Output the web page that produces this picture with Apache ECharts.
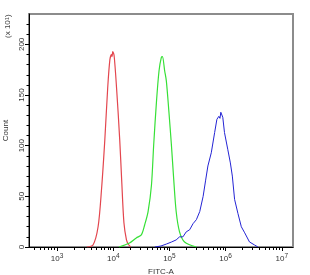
<!DOCTYPE html>
<html>
<head>
<meta charset="utf-8">
<script src="https://cdn.jsdelivr.net/npm/echarts@6/dist/echarts.min.js"></script>
<style>
  html, body { margin: 0; padding: 0; background: #fff; }
  #chart { width: 310px; height: 275px; }
</style>
</head>
<body>
<div id="chart"></div>
<script>
  // x values are log10(FITC-A), y values are count (x 10^1)
  const redData = [[3.53, 0], [3.64, 2], [3.73, 20], [3.79, 56], [3.85, 106], [3.9, 156], [3.94, 185], [3.97, 190], [3.98, 188], [3.99, 193], [4.015, 189], [4.06, 156], [4.115, 106], [4.15, 66], [4.19, 24], [4.235, 7], [4.265, 3], [4.31, 0]]
  const greenData = [[4.1, 0], [4.29, 4], [4.41, 9], [4.5, 12], [4.56, 22], [4.62, 35], [4.68, 61], [4.72, 101], [4.77, 144], [4.815, 174], [4.855, 187], [4.875, 188], [4.915, 174], [4.945, 164], [4.99, 134], [5.035, 101], [5.075, 68], [5.12, 35], [5.18, 15], [5.27, 5], [5.48, 0]]
  const blueData = [[4.74, 0], [4.85, 1], [4.95, 3], [5.04, 5], [5.12, 7], [5.18, 10], [5.24, 10], [5.3, 15], [5.36, 17], [5.42, 23], [5.48, 27], [5.54, 35], [5.6, 50], [5.645, 66], [5.685, 80], [5.745, 93], [5.805, 113], [5.845, 126], [5.88, 129], [5.9, 127], [5.915, 133], [5.95, 128], [5.98, 113], [6.04, 96], [6.085, 83], [6.12, 70], [6.16, 47], [6.22, 33], [6.28, 20], [6.34, 14], [6.425, 5], [6.515, 2], [6.575, 0]]

  const xMajor = [3, 4, 5, 6, 7]
  const xMinor = []
  for (let d = 2; d <= 7; d++) {
    for (let k = 2; k <= 9; k++) {
      const v = d + Math.log10(k)
      if (v > 2.5 && v < 7.2) xMinor.push(v)
    }
  }
  const yMajor = [0, 50, 100, 150, 200]
  const yMinor = [10, 20, 30, 40, 60, 70, 80, 90, 110, 120, 130, 140, 160, 170, 180, 190, 210, 220]

  const font = 'Liberation Sans'
  const chart = echarts.init(document.getElementById('chart'))
  chart.setOption({
    animation: false,
    grid: {
      left: 29,
      right: 17,
      top: 14,
      bottom: 28,
      outerBoundsMode: 'none',
      containLabel: false,
      show: true,
      borderColor: '#8c8c8c',
      borderWidth: 2
    },
    graphic: [{
      type: 'text',
      x: 4,
      y: 38,
      rotation: Math.PI / 2,
      style: {
        text: '(x 10{s|1})',
        fontFamily: font,
        fontSize: 8,
        fill: '#444',
        rich: { s: { fontSize: 6, verticalAlign: 'top', fill: '#444', fontFamily: font } }
      }
    }],
    xAxis: [{
      type: 'value',
      min: 2.5,
      max: 7.2,
      name: 'FITC-A',
      nameLocation: 'middle',
      nameGap: 20,
      nameTextStyle: { fontFamily: font, fontSize: 8, color: '#333' },
      splitLine: { show: false },
      axisLine: { onZero: false, lineStyle: { color: '#000', width: 1 } },
      axisTick: { customValues: xMajor, length: 4, lineStyle: { color: '#000' } },
      axisLabel: {
        customValues: xMajor,
        margin: 6,
        formatter: function(v) {
          return '{b|10}{s|' + Math.round(v) + '}'
        },
        rich: {
          b: { fontFamily: font, fontSize: 8, color: '#333' },
          s: { fontFamily: font, fontSize: 6.5, color: '#333', verticalAlign: 'top', padding: [0, 0, 4, 0] }
        }
      }
    }, {
      type: 'value',
      min: 2.5,
      max: 7.2,
      position: 'bottom',
      splitLine: { show: false },
      axisLine: { show: false },
      axisTick: { customValues: xMinor, length: 3, lineStyle: { color: '#000' } },
      axisLabel: { show: false }
    }],
    yAxis: [{
      type: 'value',
      min: 0,
      max: 230,
      name: 'Count',
      nameLocation: 'middle',
      nameGap: 19,
      nameTextStyle: { fontFamily: font, fontSize: 8, color: '#333' },
      splitLine: { show: false },
      axisLine: { show: true, onZero: false, lineStyle: { color: '#000', width: 1 } },
      axisTick: { show: true, customValues: yMajor, length: 4, lineStyle: { color: '#000' } },
      axisLabel: {
        customValues: yMajor,
        rotate: 90,
        margin: 3,
        fontFamily: font,
        fontSize: 8,
        color: '#333'
      }
    }, {
      type: 'value',
      min: 0,
      max: 230,
      position: 'left',
      splitLine: { show: false },
      axisLine: { show: false },
      axisTick: { show: true, customValues: yMinor, length: 2.5, lineStyle: { color: '#000' } },
      axisLabel: { show: false }
    }],
    series: [{
      type: 'line',
      data: redData,
      showSymbol: false,
      smooth: 0.3,
      lineStyle: { color: '#e3464e', width: 1.2 }
    }, {
      type: 'line',
      data: greenData,
      showSymbol: false,
      smooth: 0.3,
      lineStyle: { color: '#36e036', width: 1.2 }
    }, {
      type: 'line',
      data: blueData,
      showSymbol: false,
      lineStyle: { color: '#2424d4', width: 1 }
    }]
  })
</script>
</body>
</html>
